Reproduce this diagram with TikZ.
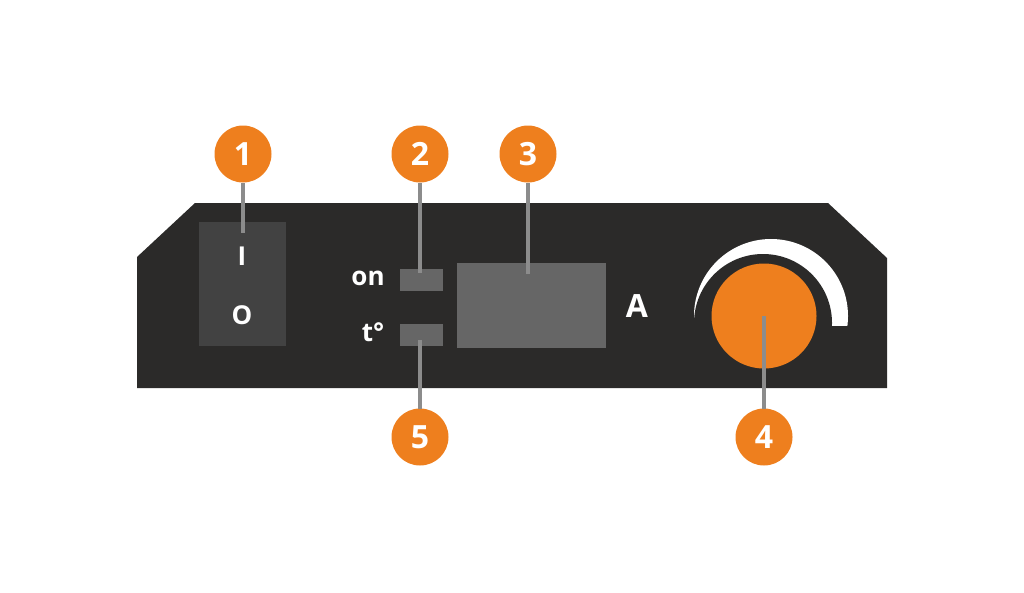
\documentclass[tikz,border=0pt]{standalone}
\usepackage{fontspec}
\setmainfont{Open Sans}
\definecolor{panel}{HTML}{2B2A29}
\definecolor{switchgrey}{HTML}{424242}
\definecolor{lampgrey}{HTML}{666666}
\definecolor{leadgrey}{HTML}{8C8C8C}
\definecolor{callout}{HTML}{EE7F1E}

\begin{document}
\begin{tikzpicture}[
    x = 1pt,
    y = -1pt,
    badge/.style = {circle, fill=callout, minimum size=57pt,
    inner sep=0pt, outer sep=0pt, text=white, font=\bfseries\fontsize{32}{32}\selectfont},
    lamp/.style = {rectangle, fill=lampgrey, minimum width=43pt,
    minimum height=22pt, inner sep=0pt},
    label/.style = {anchor=base, text=white, inner sep=0pt,
    font=\bfseries\fontsize{26}{26}\selectfont},
    leader/.style = {leadgrey, line width=4pt},
]
\useasboundingbox (0,0) rectangle (1024,592);

\fill [panel] (137,257) -- (195,203) -- (828,203) -- (887,258)
    -- (887,388) -- (137,388) -- cycle;

\node[rectangle, fill=switchgrey, minimum width=87pt, minimum height=124pt,
    inner sep=0pt] (switch) at (242.5,284){};
\node[lamp] (lamp_on) at (421.5,280){};
\node[lamp] (lamp_t) at (421.5,334.5){};
\node[rectangle, fill=lampgrey, minimum width=149pt, minimum height=85pt,
    inner sep=0pt] (display) at (531.5,305.5){};

\begin{scope}
    \clip (680,230) rectangle (860,325);
    \fill [white] (771,316) circle [radius=77pt];
    \fill [panel] (763,323) circle [radius=69pt];
\end{scope}
\node[circle, fill=callout, minimum size=105pt, inner sep=0pt] (knob) at (764,316){};

\node[label] (txt_i) at (242,265){I};
\node[label] (txt_o) at (242,324){O};
\node[label] (txt_on) at (368,285){on};
\node[label] (txt_t) at (373,341){t°};
\node[label, font=\bfseries\fontsize{32}{32}\selectfont] (txt_a) at (637,317){A};

\coordinate (end_1) at (243,233);
\coordinate (end_2) at (420,273);
\coordinate (end_3) at (528,274);
\coordinate (end_4) at (764,316);
\coordinate (end_5) at (420,340);

\node[badge] (badge_1) at (243,154){1};
\node[badge] (badge_2) at (420,154){2};
\node[badge] (badge_3) at (528,154){3};
\node[badge] (badge_4) at (764,437){4};
\node[badge] (badge_5) at (420,437){5};

\draw [leader] (badge_1) -- (end_1);
\draw [leader] (badge_2) -- (end_2);
\draw [leader] (badge_3) -- (end_3);
\draw [leader] (badge_4) -- (end_4);
\draw [leader] (badge_5) -- (end_5);

\end{tikzpicture}
\end{document}
